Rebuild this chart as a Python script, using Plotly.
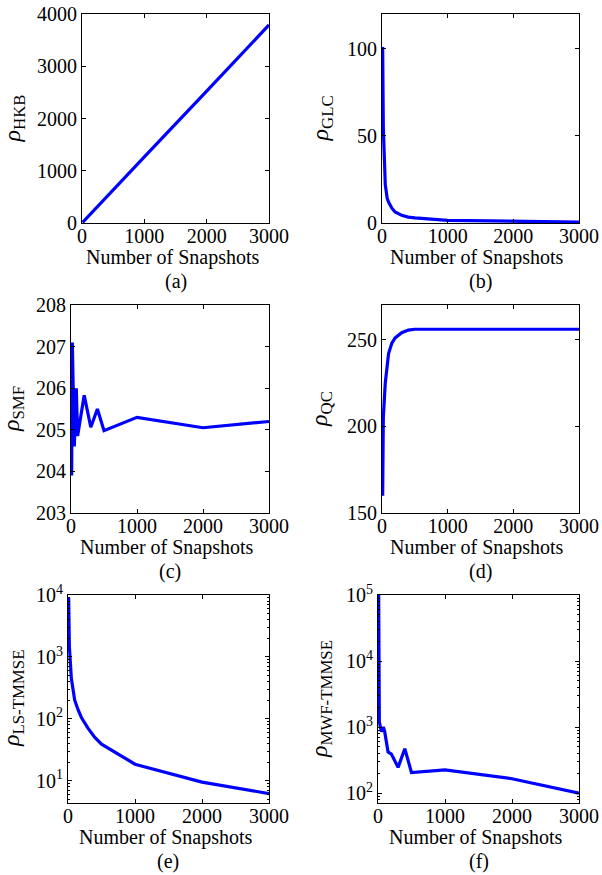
import plotly.graph_objects as go

# snapshot counts shared by all six panels
snapshots = [10, 20, 50, 80, 100, 150, 200, 300, 400, 500, 1000, 2000, 3000]

# values
rho_hkb = [12, 25, 63, 100, 126, 189, 253, 380, 505, 630, 1265, 2525, 3790]
rho_glc = [101, 55, 22, 14, 12, 8.5, 6.3, 4.4, 3.4, 2.9, 1.5, 0.9, 0.5]
rho_smf = [203.9, 207.1, 204.6, 206.0, 204.85, 205.35, 205.83, 205.06, 205.5, 204.98, 205.3, 205.05, 205.2]
rho_qc = [160, 205, 225, 236, 242, 248, 251, 254, 255.5, 256, 256, 256, 256]
rho_ls = [9000, 1500, 450, 260, 200, 140, 105, 70, 50, 39, 18.5, 9.5, 6.2]
rho_mwf = [100000, 1200, 850, 1000, 850, 420, 390, 245, 470, 205, 225, 165, 100]

x_ticks = [0, 1000, 2000, 3000]
captions = ['(a)', '(b)', '(c)', '(d)', '(e)', '(f)']

W, H = 602, 875
FONT = 'Liberation Serif, Times New Roman, serif'


def fx(v):
    return v / W


def fy(v):
    return 1 - v / H


panels = [
    dict(y=rho_hkb, name='HKB', box=(82, 269, 14, 223), rng=[0, 4000],
         tv=[0, 1000, 2000, 3000, 4000], log=False, tx=13),
    dict(y=rho_glc, name='GLC', box=(382, 579, 14, 223), rng=[0, 120],
         tv=[0, 50, 100], log=False, tx=321),
    dict(y=rho_smf, name='SMF', box=(71, 269, 305, 513), rng=[203, 208],
         tv=[203, 204, 205, 206, 207, 208], log=False, tx=13),
    dict(y=rho_qc, name='QC', box=(382, 579, 305, 513), rng=[150, 270],
         tv=[150, 200, 250], log=False, tx=321),
    dict(y=rho_ls, name='LS-TMMSE', box=(68, 269, 595, 803), rng=[0.64, 4],
         tv=[10, 100, 1000, 10000], log=True, tx=13),
    dict(y=rho_mwf, name='MWF-TMMSE', box=(378, 579, 595, 803), rng=[1.85, 5],
         tv=[100, 1000, 10000, 100000], log=True, tx=321),
]

fig = go.Figure()
annotations = []
layout = {}

for i, p in enumerate(panels):
    n = i + 1
    sfx = '' if n == 1 else str(n)
    left, right, top, bottom = p['box']

    fig.add_trace(go.Scatter(
        x=snapshots, y=p['y'], mode='lines',
        line=dict(color='#0000FF', width=3.2),
        xaxis='x' + sfx, yaxis='y' + sfx, showlegend=False,
    ))

    axis_common = dict(
        showline=True, linecolor='black', linewidth=1, mirror='ticks',
        ticks='inside', ticklen=4, tickcolor='black', showgrid=False,
        zeroline=False, automargin=False, ticklabeloverflow='allow',
        tickfont=dict(family=FONT, size=20, color='black'),
    )
    layout['xaxis' + sfx] = dict(
        domain=[fx(left), fx(right)], anchor='y' + sfx, range=[0, 3000],
        tickvals=x_ticks, ticklabelstandoff=-5, **axis_common,
    )
    if p['log']:
        ticktext = ['10<sup>%d</sup>' % len(str(v)[1:]) for v in p['tv']]
        minor_vals = [m * 10 ** e for e in range(0, 6) for m in range(2, 10)]
        layout['yaxis' + sfx] = dict(
            domain=[fy(bottom), fy(top)], anchor='x' + sfx, type='log',
            range=p['rng'], tickvals=p['tv'], ticktext=ticktext,
            minor=dict(ticks='inside', ticklen=2, tickcolor='black',
                       tickvals=minor_vals, showgrid=False),
            **axis_common,
        )
    else:
        layout['yaxis' + sfx] = dict(
            domain=[fy(bottom), fy(top)], anchor='x' + sfx, range=p['rng'],
            tickvals=p['tv'], **axis_common,
        )

    cx = (left + right) / 2
    label_font = dict(family=FONT, size=20, color='black')
    # y axis title
    annotations.append(dict(
        text='<i>ρ</i><sub>%s</sub>' % p['name'], textangle=-90,
        x=fx(p['tx']), y=fy((top + bottom) / 2), xref='paper', yref='paper',
        xanchor='center', yanchor='middle', showarrow=False,
        font=dict(family=FONT, size=24, color='black'),
    ))
    # x axis title
    annotations.append(dict(
        text='Number of Snapshots', x=fx(cx - 3), y=fy(bottom + 34),
        xref='paper', yref='paper', xanchor='center', yanchor='middle',
        showarrow=False, font=label_font,
    ))
    # panel caption
    annotations.append(dict(
        text=captions[i], x=fx(cx), y=fy(bottom + 58),
        xref='paper', yref='paper', xanchor='center', yanchor='middle',
        showarrow=False, font=label_font,
    ))

fig.update_layout(
    width=W, height=H,
    margin=dict(l=0, r=0, t=0, b=0, pad=0, autoexpand=False),
    paper_bgcolor='white', plot_bgcolor='white',
    annotations=annotations, **layout,
)

# drop the default 8px body margin so the figure fills the window exactly
fig.write_html('out.html', config={'displayModeBar': False},
               post_script="document.body.style.margin = '0';")
